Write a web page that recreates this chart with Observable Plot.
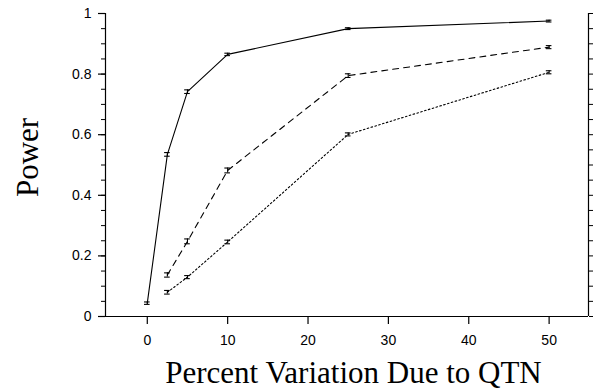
<!DOCTYPE html>
<html>
<head>
<meta charset="utf-8">
<script src="https://cdn.jsdelivr.net/npm/d3@7"></script>
<script src="https://cdn.jsdelivr.net/npm/@observablehq/plot@0.6"></script>
<style>
  body { margin: 0; background: #fff; }
  #chart svg { display: block; }
</style>
</head>
<body>
<div id="chart"></div>
<script>
// Percent variation due to QTN (x) for each series
const xSolid = [0, 2.5, 5, 10, 25, 50];
const powerSolid = [0.044, 0.535, 0.742, 0.865, 0.950, 0.975];
const errSolid = [0.004, 0.006, 0.006, 0.004, 0.003, 0.003];

const xDashed = [2.5, 5, 10, 25, 50];
const powerDashed = [0.137, 0.248, 0.482, 0.795, 0.889];
const errDashed = [0.007, 0.008, 0.008, 0.006, 0.005];

const xDotted = [2.5, 5, 10, 25, 50];
const powerDotted = [0.080, 0.130, 0.246, 0.601, 0.806];
const errDotted = [0.006, 0.005, 0.006, 0.005, 0.005];

const xTicks = [0, 10, 20, 30, 40, 50];
const yTicks = [0, 0.2, 0.4, 0.6, 0.8, 1];
const yMinorTicks = d3.range(0, 1.0001, 0.05).map(v => +v.toFixed(2));

const xTitle = "Percent Variation Due to QTN";
const yTitle = "Power";

const series = [
  {name: "solid", xs: xSolid, ys: powerSolid, es: errSolid, dash: null},
  {name: "dashed", xs: xDashed, ys: powerDashed, es: errDashed, dash: "6,5"},
  {name: "dotted", xs: xDotted, ys: powerDotted, es: errDotted, dash: "1.6,2.4"}
];
const rows = series.flatMap(s => s.xs.map((x, i) => ({series: s.name, x, y: s.ys[i], e: s.es[i]})));

const xDomain = [-5.2, 54.9];
const capHalf = 0.35;

const serif = "'Liberation Serif', 'Times New Roman', serif";
const sans = "'Liberation Sans', Arial, sans-serif";

const marks = [];
for (const s of series) {
  const data = rows.filter(d => d.series === s.name);
  marks.push(Plot.line(data, {x: "x", y: "y", stroke: "#000", strokeWidth: 1.1, strokeDasharray: s.dash}));
}
// error bars
marks.push(Plot.ruleX(rows, {x: "x", y1: d => d.y - d.e, y2: d => d.y + d.e, stroke: "#000", strokeWidth: 1.1}));
marks.push(Plot.ruleY(rows, {y: d => d.y - d.e, x1: d => d.x - capHalf, x2: d => d.x + capHalf, stroke: "#000", strokeWidth: 1.1}));
marks.push(Plot.ruleY(rows, {y: d => d.y + d.e, x1: d => d.x - capHalf, x2: d => d.x + capHalf, stroke: "#000", strokeWidth: 1.1}));

// frame lines (left, right, bottom)
marks.push(Plot.ruleX([xDomain[0], xDomain[1]], {y1: 0, y2: 1, stroke: "#000", strokeWidth: 1.2}));
marks.push(Plot.ruleY([0], {stroke: "#000", strokeWidth: 1.2}));

// axes
marks.push(Plot.axisX(xTicks, {tickSize: 8, tickPadding: 11, fontSize: 14, fontFamily: sans, label: null, strokeWidth: 1.2}));
marks.push(Plot.axisY(yTicks, {anchor: "left", tickSize: 7, tickPadding: 7, fontSize: 14, fontFamily: sans, label: null, tickFormat: d => d === 0 || d === 1 ? String(d) : d.toFixed(1), strokeWidth: 1.2}));
marks.push(Plot.axisY(yMinorTicks, {anchor: "left", tickSize: 4, tickFormat: null, label: null, text: null}));
marks.push(Plot.axisY(yMinorTicks, {anchor: "right", tickSize: 4, tickFormat: null, label: null, text: null}));

// titles
marks.push(Plot.text([xTitle], {frameAnchor: "bottom", textAnchor: "middle", lineAnchor: "middle", dx: 6.5, dy: 57, text: d => d, fontSize: 31, fontFamily: serif, fill: "#000"}));
marks.push(Plot.text([yTitle], {frameAnchor: "left", textAnchor: "middle", lineAnchor: "middle", rotate: -90, dx: -77, dy: -7.5, text: d => d, fontSize: 31, fontFamily: serif, fill: "#000"}));

const chart = Plot.plot({
  width: 594,
  height: 390,
  marginLeft: 105,
  marginRight: 6,
  marginTop: 13,
  marginBottom: 74,
  x: {domain: xDomain, axis: null},
  y: {domain: [0, 1], axis: null},
  style: {background: "#fff", color: "#000", overflow: "visible"},
  marks
});
document.getElementById("chart").appendChild(chart);
</script>
</body>
</html>
